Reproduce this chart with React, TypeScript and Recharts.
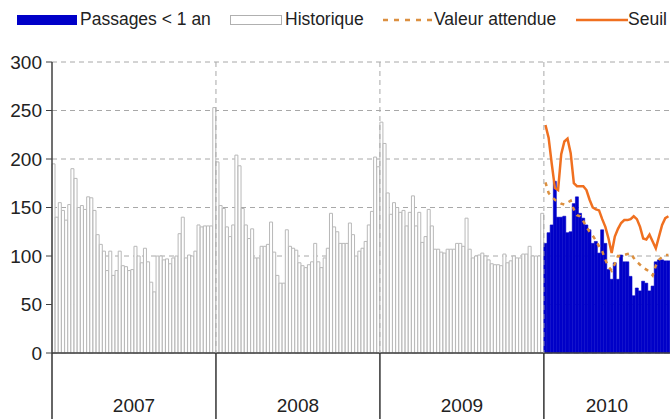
import React from "react";
import { ComposedChart, Bar, Line, XAxis, YAxis, CartesianGrid } from "recharts";

// weekly counts
const years = ["2007", "2008", "2009", "2010"];
const hist2007 = [195, 140, 155, 147, 137, 153, 190, 180, 150, 152, 148, 161, 160, 147, 122, 112, 105, 85, 105, 80, 85, 105, 90, 89, 85, 86, 110, 100, 93, 108, 94, 73, 63, 100, 100, 96, 97, 92, 98, 100, 123, 140, 98, 101, 100, 105, 132, 130, 131, 131, 131, 253];
const hist2008 = [197, 152, 149, 130, 120, 132, 204, 193, 149, 132, 118, 128, 98, 98, 110, 110, 112, 135, 104, 80, 72, 72, 127, 110, 108, 106, 93, 90, 88, 91, 94, 113, 94, 88, 98, 108, 144, 130, 125, 113, 113, 113, 134, 122, 100, 105, 108, 115, 132, 146, 202, 192];
const hist2009 = [238, 216, 165, 143, 155, 150, 145, 147, 131, 145, 162, 131, 145, 114, 120, 148, 131, 107, 107, 104, 103, 107, 107, 107, 113, 113, 110, 139, 107, 98, 100, 101, 103, 100, 96, 92, 91, 91, 90, 102, 93, 95, 100, 98, 98, 102, 102, 110, 100, 100, 100, 144];
const passages2010 = [113, 124, 132, 177, 140, 140, 141, 124, 125, 154, 161, 144, 139, 132, 127, 113, 115, 103, 127, 113, 86, 76, 93, 76, 101, 94, 94, 79, 59, 67, 64, 74, 72, 64, 69, 94, 96, 96, 95, 95];
const attendue2010 = [176, 165, 161, 158, 156, 154, 153, 155, 157, 148, 142, 141, 136, 130, 125, 121, 116, 110, 105, 96, 89, 85, 92, 100, 100, 101, 102, 103, 98, 94, 91, 88, 86, 84, 80, 90, 96, 99, 101, 101];
const seuil2010 = [235, 222, 195, 170, 168, 205, 218, 221, 206, 175, 172, 172, 172, 168, 158, 150, 148, 147, 138, 130, 118, 103, 120, 128, 134, 137, 137, 138, 141, 138, 130, 118, 117, 122, 115, 108, 120, 132, 139, 141];
const yTicks = [0, 50, 100, 150, 200, 250, 300];

const BLUE = "#0000c8";
const SEUIL = "#f07020";
const ATTENDUE = "#dc9040";
const FONT = "'Liberation Sans', Arial, sans-serif";

const W = 670;
const H = 419;
const LEFT = 52;
const TOP = 62;
const AXIS_Y = 353;

const data: any[] = [];
[hist2007, hist2008, hist2009].forEach((arr) => arr.forEach((v) => data.push({ i: data.length, hist: v })));
passages2010.forEach((v, k) => data.push({ i: data.length, cur: v, attendue: attendue2010[k], seuil: seuil2010[k] }));

const counts = [hist2007.length, hist2008.length, hist2009.length, passages2010.length];
const starts = counts.map((_, n) => counts.slice(0, n).reduce((a, b) => a + b, 0));
const bw = (W - LEFT) / data.length;

function YearTick(props: any) {
  const { x, payload } = props;
  const idx = payload.value;
  const left = x - bw / 2;
  const n = starts.indexOf(idx);
  const m = starts.findIndex((s, j) => s + Math.floor(counts[j] / 2) === idx);
  return (
    <g>
      {n >= 0 && (
        <line x1={left} x2={left} y1={AXIS_Y} y2={H} stroke="#333" strokeWidth={1.5} />
      )}
      {n > 0 && (
        <line x1={left} x2={left} y1={TOP} y2={AXIS_Y} stroke="#a8a8a8" strokeDasharray="5 4" />
      )}
      {m >= 0 && (
        <text x={left} y={412} textAnchor="middle" fontSize={19} fill="#222">
          {years[m]}
        </text>
      )}
    </g>
  );
}

export default function App() {
  return (
    <div style={{ position: "absolute", left: 0, top: 0, width: W, height: H, background: "#fff", fontFamily: FONT, overflow: "hidden" }}>
      <div style={{ position: "absolute", left: 0, top: 0, width: W, height: 40, fontSize: 17.5, lineHeight: 1, color: "#222", whiteSpace: "nowrap" }}>
        <div style={{ position: "absolute", left: 17, top: 15, width: 60, height: 10, background: BLUE }} />
        <span style={{ position: "absolute", left: 80, top: 11 }}>Passages &lt; 1 an</span>
        <div style={{ position: "absolute", left: 230, top: 15, width: 50, height: 8, border: "1px solid #b0b0b0", background: "#fff" }} />
        <span style={{ position: "absolute", left: 285, top: 11 }}>Historique</span>
        <svg style={{ position: "absolute", left: 380, top: 14 }} width={54} height={12}>
          <line x1={3} x2={54} y1={6} y2={6} stroke={ATTENDUE} strokeWidth={2.5} strokeDasharray="5 6" />
        </svg>
        <span style={{ position: "absolute", left: 434, top: 11 }}>Valeur attendue</span>
        <svg style={{ position: "absolute", left: 576, top: 14 }} width={52} height={12}>
          <line x1={0} x2={52} y1={6} y2={6} stroke={SEUIL} strokeWidth={2.5} />
        </svg>
        <span style={{ position: "absolute", left: 628, top: 11 }}>Seuil</span>
      </div>
      <ComposedChart
        width={W}
        height={H}
        data={data}
        barCategoryGap={0}
        barGap={0}
        margin={{ top: TOP, right: 0, left: 0, bottom: 0 }}
      >
        <CartesianGrid vertical={false} stroke="#a8a8a8" strokeDasharray="5 4" />
        <Bar dataKey="hist" stackId="a" fill="#ffffff" stroke="#b8b8b8" strokeWidth={1} isAnimationActive={false} />
        <Bar dataKey="cur" stackId="a" fill={BLUE} stroke={BLUE} strokeWidth={0.6} isAnimationActive={false} />
        <Line type="linear" dataKey="attendue" stroke={ATTENDUE} strokeWidth={2.5} strokeDasharray="4 5" dot={false} isAnimationActive={false} />
        <Line type="linear" dataKey="seuil" stroke={SEUIL} strokeWidth={2.5} dot={false} isAnimationActive={false} />
        <XAxis
          dataKey="i"
          type="category"
          interval={0}
          tickLine={false}
          axisLine={{ stroke: "#404040", strokeWidth: 1.5 }}
          height={H - AXIS_Y}
          tick={<YearTick />}
        />
        <YAxis
          width={LEFT}
          domain={[0, 300]}
          ticks={yTicks}
          tickSize={6}
          tickMargin={4}
          axisLine={{ stroke: "#404040", strokeWidth: 1.5 }}
          tickLine={{ stroke: "#404040" }}
          tick={{ fontSize: 19, fill: "#222" }}
        />
      </ComposedChart>
    </div>
  );
}
